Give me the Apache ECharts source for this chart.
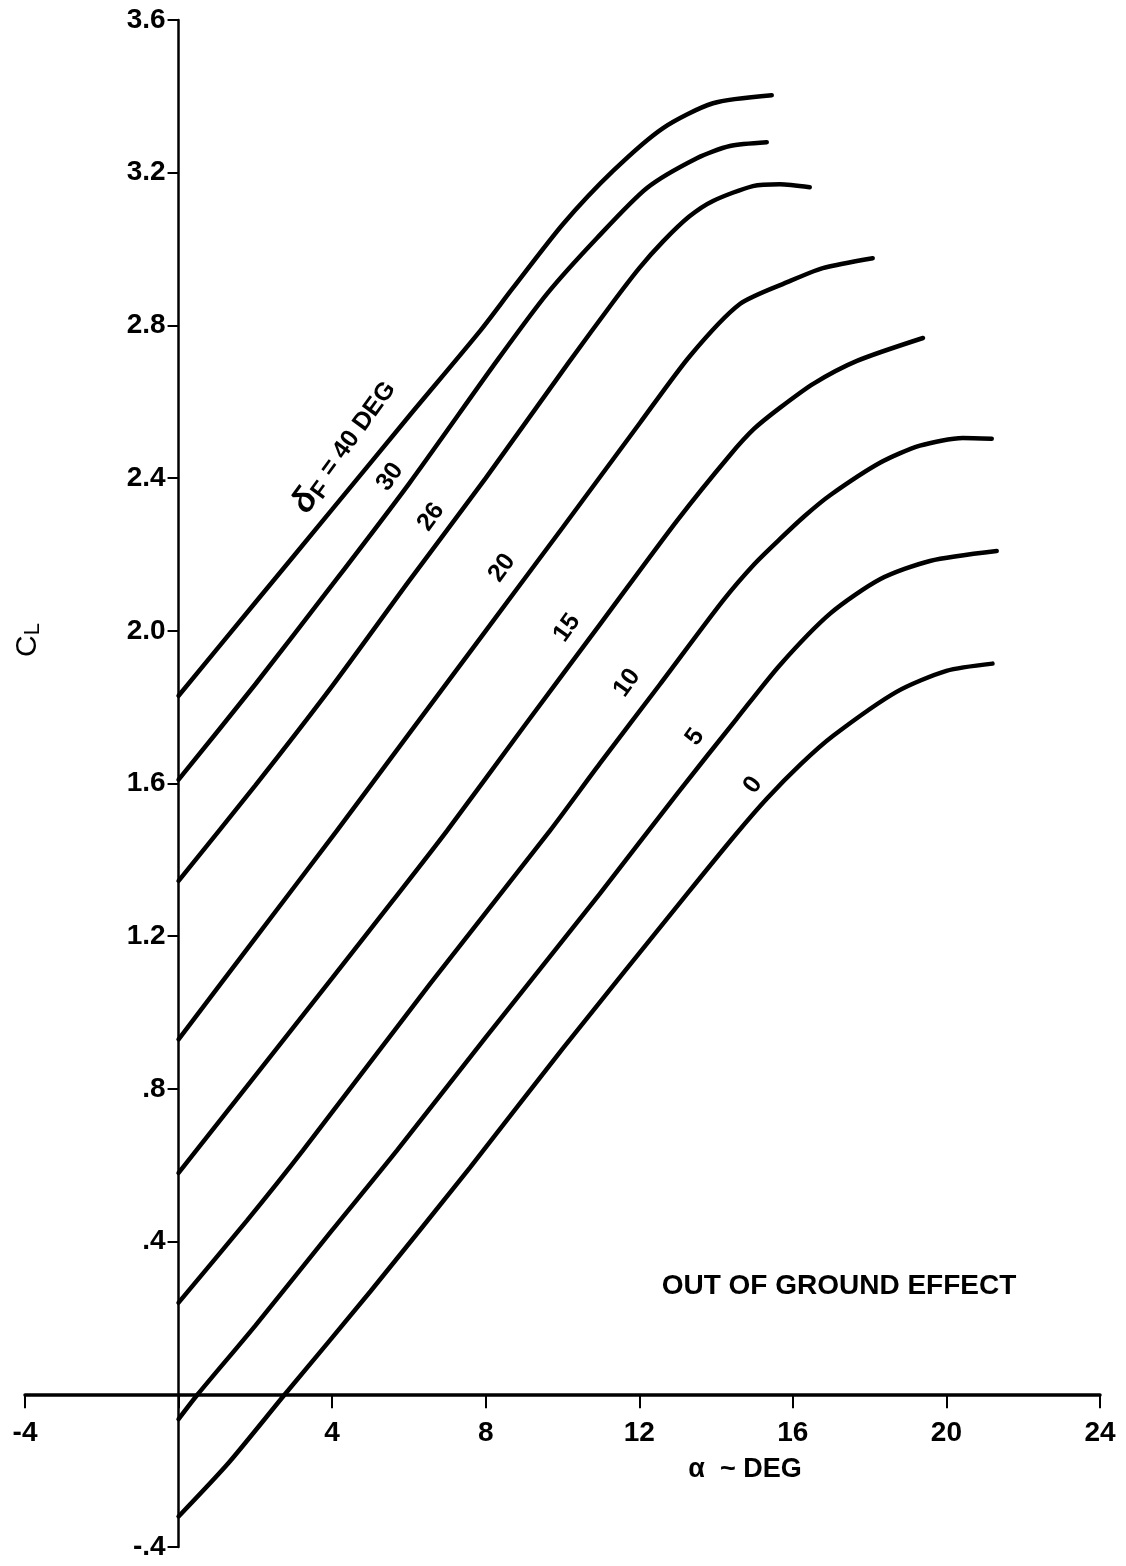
<!DOCTYPE html>
<html><head><meta charset="utf-8">
<script src="https://cdn.jsdelivr.net/npm/echarts@6/dist/echarts.min.js"></script>
<style>html,body{margin:0;padding:0;background:#fff}#c{width:1126px;height:1566px}</style>
</head><body><div id="c"></div>
<script>
// Flap deflection curves: [alpha (deg), CL]
const flap40 = [[0,1.83],[2,2.074],[4,2.318],[6,2.562],[7.85,2.785],[8.71,2.898],[10.01,3.065],[11.31,3.204],[12.62,3.317],[13.92,3.382],[15.45,3.403]];
const flap30 = [[0,1.61],[2,1.86],[4,2.12],[6,2.385],[8.29,2.707],[9.59,2.882],[10.9,3.029],[12.2,3.16],[13.5,3.238],[14.36,3.27],[15.32,3.28]];
const flap26 = [[0,1.345],[2,1.595],[4,1.855],[6,2.13],[8,2.40],[10.14,2.70],[11.31,2.86],[12.0,2.95],[12.62,3.02],[13.3,3.085],[13.92,3.126],[14.96,3.165],[15.66,3.17],[16.44,3.162]];
const flap20 = [[0,0.93],[2,1.195],[4.12,1.476],[6,1.73],[8,2.0],[10,2.27],[12.02,2.545],[13.32,2.72],[14.62,2.856],[15.92,2.916],[16.78,2.95],[18.08,2.976]];
const flap15 = [[0,0.58],[2,0.835],[4,1.09],[5.58,1.293],[6.99,1.476],[9,1.75],[11,2.02],[12.98,2.288],[14.36,2.46],[15.0,2.53],[15.66,2.584],[16.53,2.647],[17.67,2.707],[19.39,2.767]];
const flap10 = [[0,0.24],[1.78,0.455],[3.24,0.639],[6.55,1.075],[9.67,1.476],[10.97,1.652],[12.54,1.86],[14.18,2.079],[15.0,2.175],[15.66,2.24],[16.3,2.30],[16.97,2.355],[18.27,2.44],[19.31,2.485],[20.43,2.505],[21.18,2.503]];
const flap5 = [[0,-0.065],[0.5,0],[2,0.18],[4,0.43],[5.69,0.639],[8,0.935],[10.97,1.311],[13,1.575],[14.54,1.77],[15.66,1.91],[16.97,2.045],[18.27,2.135],[19.57,2.183],[21.31,2.209]];
const flap0 = [[0,-0.32],[1.3,-0.18],[2.77,0],[5,0.27],[7.59,0.594],[10,0.905],[13.24,1.31],[14.5,1.465],[15.32,1.56],[16.2,1.65],[17.05,1.725],[18.7,1.84],[20,1.895],[21.2,1.914]];

const flapNames = ['40','30','26','20','15','10','5','0'];
const flapSeries = [flap40, flap30, flap26, flap20, flap15, flap10, flap5, flap0];

const xTicks = [-4, 0, 4, 8, 12, 16, 20, 24];
const yTicks = [-0.4, 0, 0.4, 0.8, 1.2, 1.6, 2.0, 2.4, 2.8, 3.2, 3.6];

const FONT = '"Liberation Sans", Arial, Helvetica, sans-serif';

function fmtY(v) {
  if (Math.abs(v) < 1e-9) return '';
  if (Math.abs(v) < 1) return (v < 0 ? '-' : '') + Math.abs(v).toFixed(1).slice(1);
  return v.toFixed(1);
}
function fmtX(v) {
  if (Math.abs(v) < 1e-9) return '';
  return String(v);
}

const W = 1126, H = 1566;
const G = {left: 25, right: 26, top: 20, bottom: 19};
const xMin = xTicks[0], xMax = xTicks[xTicks.length - 1];
const yMin = yTicks[0], yMax = yTicks[yTicks.length - 1];
const gw = W - G.left - G.right, gh = H - G.top - G.bottom;
// shift axes so they cross at the origin
const yAxisOffset = -gw * (0 - xMin) / (xMax - xMin);
const xAxisOffset = -gh * (0 - yMin) / (yMax - yMin);

const chart = echarts.init(document.getElementById('c'), null, {renderer: 'canvas'});
const rot = 54 * Math.PI / 180;

// curve label anchors (pixel centres)
const labelPos = [[345,447],[390,477],[431,517],[502,568],[567,628],[627,683],[695,737],[753,785]];

const graphics = [];
labelPos.forEach((p, i) => {
  if (i === 0) {
    graphics.push({
      type: 'text', x: p[0], y: p[1], rotation: rot,
      style: {
        text: '{d|δ}{f|F}{t| = 40 DEG}',
        textAlign: 'center', textVerticalAlign: 'middle',
        rich: {
          d: {fontSize: 34, fontWeight: 'bold', fontStyle: 'italic', fontFamily: FONT, fill: '#000', lineHeight: 36, verticalAlign: 'middle'},
          f: {fontSize: 24, fontWeight: 'bold', fontFamily: FONT, fill: '#000', lineHeight: 22, verticalAlign: 'bottom', padding: [0,2,0,0]},
          t: {fontSize: 25, fontWeight: 'bold', fontFamily: FONT, fill: '#000', lineHeight: 36, verticalAlign: 'middle'}
        }
      }
    });
  } else {
    graphics.push({
      type: 'text', x: p[0], y: p[1], rotation: rot,
      style: {text: flapNames[i], font: 'bold 25px ' + FONT, fill: '#000', textAlign: 'center', textVerticalAlign: 'middle'}
    });
  }
});
graphics.push({
  type: 'text', x: 839, y: 1286,
  style: {text: 'OUT OF GROUND EFFECT', font: 'bold 28px ' + FONT, fill: '#000', textAlign: 'center', textVerticalAlign: 'middle'}
});
graphics.push({
  type: 'text', x: 745, y: 1470,
  style: {text: 'α  ~ DEG', font: 'bold 27px ' + FONT, fill: '#000', textAlign: 'center', textVerticalAlign: 'middle'}
});
graphics.push({
  type: 'text', x: 28, y: 640, rotation: Math.PI / 2,
  style: {
    text: '{c|C}{l|L}', textAlign: 'center', textVerticalAlign: 'middle',
    rich: {
      c: {fontSize: 30, fontFamily: FONT, fill: '#000', lineHeight: 32, verticalAlign: 'middle'},
      l: {fontSize: 22, fontFamily: FONT, fill: '#000', lineHeight: 16, verticalAlign: 'bottom'}
    }
  }
});

chart.setOption({
  animation: false,
  backgroundColor: '#fff',
  grid: {left: G.left, right: G.right, top: G.top, bottom: G.bottom, containLabel: false, outerBoundsMode: 'none'},
  xAxis: {
    type: 'value', min: xMin, max: xMax, interval: 4, position: 'bottom', offset: xAxisOffset,
    axisLine: {onZero: false, lineStyle: {color: '#000', width: 3.5}},
    axisTick: {show: true, inside: false, length: 14, lineStyle: {color: '#000', width: 2}},
    axisLabel: {formatter: fmtX, color: '#000', fontSize: 28, fontWeight: 'bold', fontFamily: FONT, margin: 25},
    splitLine: {show: false}
  },
  yAxis: {
    type: 'value', min: yMin, max: yMax, interval: 0.4, position: 'left', offset: yAxisOffset,
    axisLine: {onZero: false, lineStyle: {color: '#000', width: 2.5}},
    axisTick: {show: true, inside: false, length: 11, lineStyle: {color: '#000', width: 2}},
    axisLabel: {formatter: fmtY, color: '#000', fontSize: 28, fontWeight: 'bold', fontFamily: FONT, margin: 13},
    splitLine: {show: false}
  },
  series: flapSeries.map((d, i) => ({
    name: 'δF = ' + flapNames[i],
    type: 'line',
    data: d,
    showSymbol: false,
    smooth: 0.25,
    lineStyle: {color: '#000', width: 4.5, cap: 'round'},
    z: 3
  })),
  graphic: graphics
});
</script>
</body></html>
